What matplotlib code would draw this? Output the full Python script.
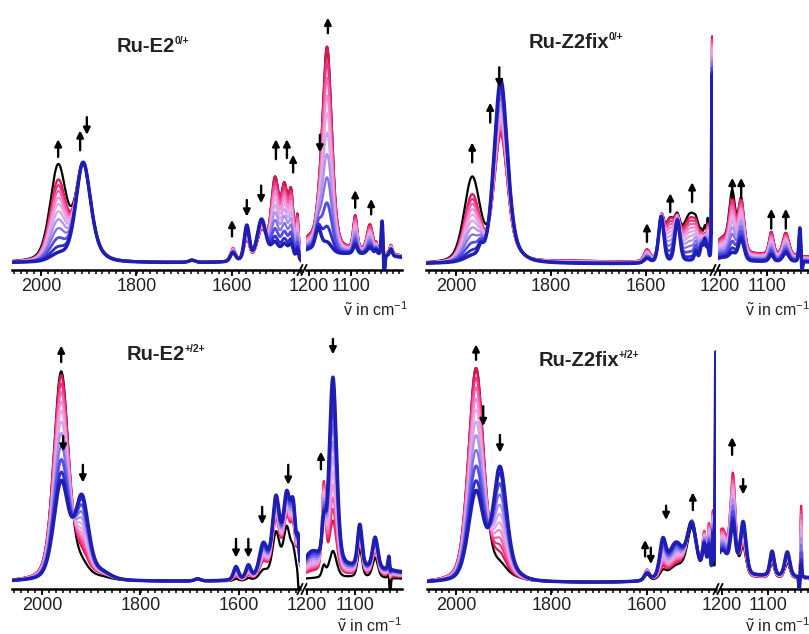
import numpy as np
import matplotlib
matplotlib.use('Agg')
import matplotlib.pyplot as plt
from matplotlib.lines import Line2D
from matplotlib.ticker import FixedLocator
from matplotlib.colors import LinearSegmentedColormap

plt.rcParams['font.family'] = ['Liberation Sans', 'DejaVu Sans']
plt.rcParams['mathtext.fontset'] = 'custom'
plt.rcParams['mathtext.rm'] = 'Liberation Sans'
plt.rcParams['mathtext.bf'] = 'Liberation Sans:bold'
plt.rcParams['mathtext.it'] = 'Liberation Sans:italic'

# ---------------- data ----------------
# fraction of conversion for each coloured trace (red -> blue)
trace_fraction = [1.0, 0.92, 0.84, 0.75, 0.66, 0.56, 0.45, 0.33, 0.20, 0.08, 0.0]

# Ru-E2 0/+  : band centre (cm-1), width, amplitude blue / red / black
e2a_center = [1964, 1912, 1888, 1684, 1598, 1569, 1538, 1510, 1490, 1476, 1463,
              1200, 1178, 1157, 1090, 1055, 1040, 1026, 1021, 1005, 1100]
e2a_fwhm   = [40, 36, 45, 15, 13, 13, 22, 20, 16, 12, 6,
              50, 16, 27, 11, 16, 6, 5, 4, 8, 300]
e2a_blue   = [0.03, 0.44, 0.03, 0.01, 0.04, 0.16, 0.19, 0.08, 0.07, 0.07, 0.05,
              0.03, 0.10, 0.05, 0.04, 0.03, 0.02, 0.16, -0.10, 0.03, 0.04]
e2a_red    = [0.36, 0.42, 0.03, 0.01, 0.06, 0.10, 0.13, 0.36, 0.30, 0.27, 0.18,
              0.06, 0.05, 0.92, 0.15, 0.12, 0.03, 0.07, -0.04, 0.04, 0.05]
e2a_black  = [0.43, 0.42, 0.03, 0.01, 0.04, 0.10, 0.13, 0.36, 0.30, 0.27, 0.18,
              0.06, 0.05, 0.92, 0.15, 0.12, 0.03, 0.07, -0.04, 0.04, 0.05]

# Ru-Z2fix 0/+
z2a_center = [1966, 1948, 1906, 1880, 1750, 1598, 1568, 1550, 1534, 1505, 1495, 1483, 1476, 1470, 1461,
              1195, 1174, 1155, 1091, 1060, 1030, 1026, 1100]
z2a_fwhm   = [40, 12, 33, 45, 200, 15, 13, 26, 13, 45, 8, 8, 6, 5, 2.5,
              40, 15, 15, 11, 15, 5, 4, 300]
z2a_blue   = [0.02, 0.04, 0.82, 0.03, 0.0, 0.02, 0.21, 0.0, 0.19, 0.01, 0.04, 0.07, 0.09, 0.06, 0.85,
              0.02, 0.03, 0.10, 0.03, 0.04, 0.16, -0.06, 0.01]
z2a_red    = [0.30, 0.0, 0.56, 0.03, 0.01, 0.05, 0.16, 0.17, 0.09, 0.20, 0.02, 0.03, 0.05, 0.12, 1.0,
              0.08, 0.22, 0.24, 0.10, 0.10, 0.07, -0.02, 0.04]
z2a_black  = [0.38, 0.0, 0.57, 0.03, 0.01, 0.05, 0.16, 0.17, 0.09, 0.22, 0.02, 0.03, 0.08, 0.14, 0.5,
              0.08, 0.25, 0.24, 0.10, 0.10, 0.07, -0.02, 0.04]

# Ru-E2 +/2+
e2b_center = [1961, 1919, 1880, 1684, 1606, 1581, 1551, 1525, 1503, 1490, 1510, 1480, 1478,
              1190, 1165, 1146, 1090, 1058, 1029, 1027, 1100]
e2b_fwhm   = [36, 32, 45, 14, 12, 12, 18, 16, 15, 12, 60, 5, 4,
              40, 9, 18, 11, 13, 5, 3, 300]
e2b_blue   = [0.44, 0.36, 0.03, 0.01, 0.06, 0.06, 0.13, 0.28, 0.27, 0.24, 0.11, 0.10, 0.0,
              0.08, 0.15, 0.86, 0.19, 0.14, 0.07, -0.04, 0.06]
e2b_red    = [0.93, 0.09, 0.02, 0.01, 0.02, 0.02, 0.06, 0.21, 0.20, 0.17, 0.08, 0.08, 0.0,
              0.02, 0.40, 0.24, 0.15, 0.11, 0.05, -0.04, 0.03]
e2b_black  = [0.95, 0.05, 0.01, 0.01, 0.01, 0.01, 0.03, 0.17, 0.18, 0.09, 0.06, 0.0, -0.12,
              0.0, 0.05, 0.12, 0.13, 0.09, 0.03, -0.12, 0.02]

# Ru-Z2fix +/2+
z2b_center = [1958, 1908, 1880, 1600, 1567, 1540, 1520, 1506, 1480, 1470, 1462, 1456,
              1200, 1176, 1154, 1091, 1058, 1032, 1028, 1100]
z2b_fwhm   = [38, 33, 45, 13, 15, 35, 80, 22, 9, 6, 3, 2.5,
              30, 13, 15, 11, 13, 3, 3, 300]
z2b_blue   = [0.40, 0.50, 0.02, 0.03, 0.15, 0.13, 0.05, 0.21, 0.13, 0.13, 0.18, 1.02,
              0.12, 0.22, 0.24, 0.11, 0.11, -0.06, 0.06, 0.03]
z2b_red    = [0.97, 0.09, 0.01, 0.05, 0.04, 0.03, 0.06, 0.22, 0.18, 0.22, 0.28, 0.80,
              0.22, 0.43, 0.14, 0.08, 0.08, 0.0, 0.33, 0.02]
z2b_black  = [0.97, 0.05, 0.01, 0.03, 0.03, 0.03, 0.05, 0.20, 0.16, 0.18, 0.2, 0.5,
              0.2, 0.38, 0.13, 0.07, 0.07, 0.0, 0.28, 0.02]

titles = [('Ru-E2', '0/+'), ('Ru-Z2fix', '0/+'), ('Ru-E2', '+/2+'), ('Ru-Z2fix', '+/2+')]
left_ticks = [2000, 1800, 1600]
right_ticks = [1200, 1100]

# arrows: (wavenumber, tail y, head y)
e2a_arrows = [(1964, 0.48, 0.56), (1918, 0.51, 0.60), (1904, 0.66, 0.58), (1600, 0.12, 0.195),
              (1569, 0.285, 0.21), (1539, 0.35, 0.27), (1508, 0.47, 0.56), (1485, 0.475, 0.56),
              (1472, 0.41, 0.49), (1174, 0.58, 0.50), (1155, 1.04, 1.11), (1090, 0.25, 0.33),
              (1052, 0.22, 0.29)]
z2a_arrows = [(1966, 0.46, 0.55), (1928, 0.64, 0.73), (1909, 0.89, 0.80), (1598, 0.10, 0.185),
              (1549, 0.235, 0.32), (1503, 0.28, 0.37), (1174, 0.30, 0.39), (1155, 0.30, 0.39),
              (1091, 0.16, 0.25), (1060, 0.16, 0.25)]
e2b_arrows = [(1961, 0.995, 1.07), (1957, 0.66, 0.59), (1917, 0.53, 0.45), (1606, 0.195, 0.11),
              (1581, 0.195, 0.11), (1553, 0.34, 0.26), (1500, 0.53, 0.44), (1171, 0.51, 0.59),
              (1146, 1.10, 1.03)]
z2b_arrows = [(1958, 1.01, 1.08), (1943, 0.80, 0.71), (1908, 0.67, 0.59), (1604, 0.12, 0.195),
              (1592, 0.16, 0.085), (1560, 0.35, 0.285), (1504, 0.33, 0.41), (1178, 0.58, 0.66),
              (1154, 0.47, 0.40)]

# ---------------- figure ----------------
W, H = 809, 634
fig = plt.figure(figsize=(W / 100, H / 100), dpi=100)

cmap = LinearSegmentedColormap.from_list('ox', ['#e3154f', '#ee3d8f', '#f479c4', '#f2a6dc',
                                               '#d6a6ec', '#a68cee', '#6a5ee8', '#3434d8',
                                               '#1e1eb0'])


def band(x, c, w):
    g = np.exp(-4 * np.log(2) * (x - c) ** 2 / w ** 2)
    lo = 1.0 / (1 + 4 * (x - c) ** 2 / w ** 2)
    return 0.65 * g + 0.35 * lo


def spectrum(x, centers, fwhm, amps):
    y = np.zeros_like(x)
    for c, w, a in zip(centers, fwhm, amps):
        y += a * band(x, c, w)
    return y


def rect(x0, x1, ytop, ybot):
    return [x0 / W, 1 - ybot / H, (x1 - x0) / W, (ybot - ytop) / H]


panels = [
    dict(data=(e2a_center, e2a_fwhm, e2a_blue, e2a_red, e2a_black), arrows=e2a_arrows,
         segs=[((12, 301), (2060.7, 1455.5)), ((306, 402), (1207.1, 978.6))],
         ytop=10, ybot=270, base=263, title=(117, 47), xlabel=(343, 310), brk=302),
    dict(data=(z2a_center, z2a_fwhm, z2a_blue, z2a_red, z2a_black), arrows=z2a_arrows,
         segs=[((426, 713), (2063.2, 1459.0)), ((718, 812), (1204.3, 1004.3))],
         ytop=10, ybot=270, base=264, title=(529, 42), xlabel=(745, 310), brk=715),
    dict(data=(e2b_center, e2b_fwhm, e2b_blue, e2b_red, e2b_black), arrows=e2b_arrows,
         segs=[((12, 300), (2060.9, 1476.1)), ((306, 402), (1202.1, 1002.1))],
         ytop=330, ybot=589, base=582, title=(127, 354), xlabel=(337, 626), brk=302),
    dict(data=(z2b_center, z2b_fwhm, z2b_blue, z2b_red, z2b_black), arrows=z2b_arrows,
         segs=[((427, 716), (2060.7, 1455.5)), ((720, 812), (1204.3, 1004.3))],
         ytop=330, ybot=589, base=583, title=(539, 360), xlabel=(745, 626), brk=718),
]

SCALE = 221.0  # px per absorbance unit

for p, (tmain, tsup) in zip(panels, titles):
    centers, fwhm, ablue, ared, ablack = p['data']
    ymin = -(p['ybot'] - p['base']) / SCALE
    ymax = (p['base'] - p['ytop']) / SCALE
    for si, ((x0, x1), (wl, wr)) in enumerate(p['segs']):
        ax = fig.add_axes(rect(x0, x1, p['ytop'], p['ybot']))
        ax.set_xlim(wl, wr)
        ax.set_ylim(ymin, ymax)
        x = np.linspace(wl, wr, 2500)
        ax.plot(x, spectrum(x, centers, fwhm, ablack), color='black', lw=1.6, zorder=2)
        n = len(trace_fraction)
        for k, f in enumerate(trace_fraction):
            amps = [b + f * (r - b) for b, r in zip(ablue, ared)]
            col = cmap(k / (n - 1))
            lw = 2.5 if k == n - 1 else (2.0 if k >= n - 3 else 1.6)
            ax.plot(x, spectrum(x, centers, fwhm, amps), color=col, lw=lw, zorder=3 + k)
        for (wa, yt, yh) in p['arrows']:
            if wl >= wa >= wr:
                ax.annotate('', xy=(wa, yh), xytext=(wa, yt),
                            arrowprops=dict(arrowstyle='-|>', color='black', lw=1.7,
                                            mutation_scale=10, shrinkA=0, shrinkB=0),
                            zorder=30)
        for s in ['top', 'left', 'right']:
            ax.spines[s].set_visible(False)
        ax.spines['bottom'].set_linewidth(1.8)
        ax.set_yticks([])
        ticks = left_ticks if si == 0 else right_ticks
        ax.xaxis.set_major_locator(FixedLocator(ticks))
        ax.xaxis.set_minor_locator(FixedLocator(np.arange(2100, 950, -14.3)))
        ax.tick_params(axis='x', which='major', direction='out', length=4, width=1.3,
                       labelsize=13, pad=2, labelcolor='#222222')
        ax.tick_params(axis='x', which='minor', direction='out', length=3, width=1.1)
        ax.patch.set_alpha(0)
    # title: main text bold, small superscript
    t = fig.text(p['title'][0] / W, 1 - p['title'][1] / H, tmain, fontsize=14.5,
                 fontweight='bold', ha='left', va='center', color='#222222')
    fig.canvas.draw()
    bb = t.get_window_extent()
    fig.text((bb.x1 - 1) / W, (bb.y1 - 4) / H, tsup, fontsize=7.5, fontweight='bold',
             ha='left', va='center', color='#222222')
    # axis label
    fig.text(p['xlabel'][0] / W, 1 - p['xlabel'][1] / H,
             r'$\tilde{\mathregular{v}}$ in cm$^{\mathregular{-1}}$', fontsize=11.5,
             ha='left', va='center', color='#222222')
    # break marks
    bx = p['brk']
    yb = p['ybot']
    for dx in (-2, 2):
        fig.add_artist(Line2D([(bx + dx - 2.5) / W, (bx + dx + 2.5) / W],
                              [1 - (yb + 5) / H, 1 - (yb - 5) / H],
                              color='black', lw=1.3, transform=fig.transFigure))

fig.savefig('out.png', dpi=100)
